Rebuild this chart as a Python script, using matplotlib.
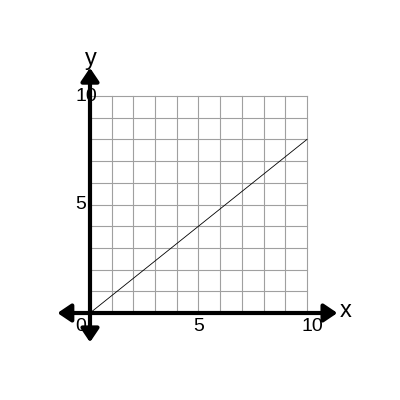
import matplotlib
matplotlib.use("Agg")
import matplotlib.pyplot as plt

plt.rcParams['font.family'] = ['Liberation Sans', 'DejaVu Sans']

# data
grid_x = list(range(0, 11))
grid_y = list(range(0, 11))
line_x = [0, 10]
line_y = [0, 8]
x_ticks = [5, 10]
y_ticks = [5, 10]

fig = plt.figure(figsize=(4, 4), dpi=100)
ax = fig.add_axes([0, 0, 1, 1])
scale = 21.7
x0 = -90 / scale
y0 = -87 / scale
ax.set_xlim(x0, x0 + 400 / scale)
ax.set_ylim(y0, y0 + 400 / scale)
ax.axis("off")

# grid
for gx in grid_x:
    ax.plot([gx, gx], [0, 10], color="#a0a0a0", lw=0.8, zorder=1)
for gy in grid_y:
    ax.plot([0, 10], [gy, gy], color="#a0a0a0", lw=0.8, zorder=1)

# the line
ax.plot(line_x, line_y, color="black", lw=0.6, zorder=2)

# axes with arrows
arrow = dict(arrowstyle="<|-|>,head_length=0.4,head_width=0.27",
             lw=3, color="black", mutation_scale=20, shrinkA=0, shrinkB=0)
ax.annotate("", xy=(11.4, 0), xytext=(-1.5, 0), arrowprops=arrow, zorder=3)
ax.annotate("", xy=(0, 11.3), xytext=(0, -1.35), arrowprops=arrow, zorder=3)

# labels
ax.text(11.5, 0.07, "x", fontsize=17, ha="left", va="center")
ax.text(0.05, 11.2, "y", fontsize=17, ha="center", va="bottom")
ax.text(-0.7, -0.25, "0", fontsize=14, ha="left", va="top")
for t in x_ticks:
    ax.text(t - 0.25, -0.25, str(t), fontsize=14, ha="left", va="top")
for t in y_ticks:
    ax.text(-0.66, t, str(t), fontsize=14, ha="left", va="center")

fig.savefig("out.png", dpi=100)
